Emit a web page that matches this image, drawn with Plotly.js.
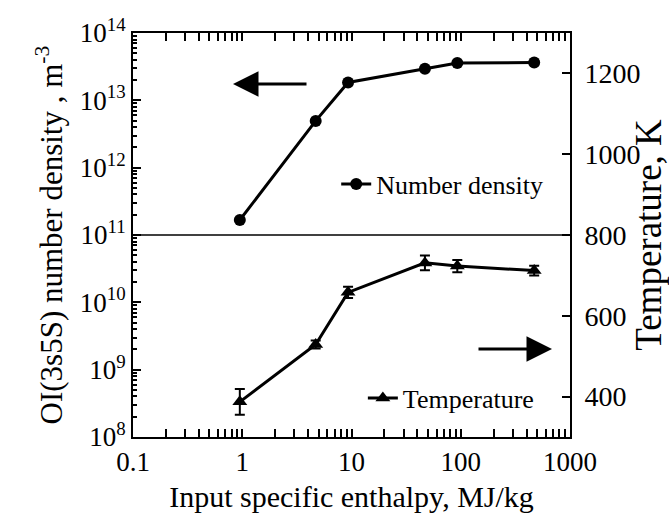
<!DOCTYPE html>
<html>
<head>
<meta charset="utf-8">
<script src="https://cdn.plot.ly/plotly-3.0.1.min.js"></script>
<style>html,body{margin:0;padding:0;background:#fff;}#chart{width:669px;height:515px;}</style>
</head>
<body>
<div id="chart"></div>
<script>
// Data
const enthalpy = [0.95, 4.7, 9.3, 47, 93, 470];          // MJ/kg
const numberDensity = [1.67e11, 4.95e12, 1.84e13, 2.94e13, 3.58e13, 3.65e13]; // m^-3
const temperature = [387, 529, 658, 731, 723, 712];      // K
const temperatureErr = [32, 10, 14, 18, 15, 12];         // K
const xTickVals = [0.1, 1, 10, 100, 1000];
const xTickText = ['0.1', '1', '10', '100', '1000'];
const yTickVals = [1e8, 1e9, 1e10, 1e11, 1e12, 1e13, 1e14];
const yTickText = ['10<sup>8</sup>', '10<sup>9</sup>', '10<sup>10</sup>', '10<sup>11</sup>', '10<sup>12</sup>', '10<sup>13</sup>', '10<sup>14</sup>'];
const y2TickVals = [400, 600, 800, 1000, 1200];

const FONT = '"Liberation Serif", "Times New Roman", serif';

const traces = [
  {
    x: enthalpy, y: numberDensity, name: 'Number density', type: 'scatter', mode: 'lines+markers',
    line: {color: '#000', width: 3}, marker: {symbol: 'circle', size: 12, color: '#000'},
    yaxis: 'y', legend: 'legend'
  },
  {
    x: enthalpy, y: temperature, name: 'Temperature', type: 'scatter', mode: 'lines+markers',
    line: {color: '#000', width: 3}, marker: {symbol: 'triangle-up', size: 13, color: '#000'},
    error_y: {type: 'data', array: temperatureErr, visible: true, color: '#000', thickness: 2, width: 5},
    yaxis: 'y2', legend: 'legend2'
  }
];

const layout = {
  width: 669, height: 515,
  margin: {l: 133, r: 99, t: 33, b: 78},
  paper_bgcolor: '#fff', plot_bgcolor: '#fff',
  font: {family: FONT, color: '#000', size: 22},
  xaxis: {
    type: 'log', range: [-1, 3], tickvals: xTickVals, ticktext: xTickText,
    ticks: 'inside', ticklen: 8, tickwidth: 2, tickcolor: '#000',
    minor: {ticks: 'inside', ticklen: 4, tickwidth: 2, tickcolor: '#000', dtick: 'D1', showgrid: false},
    showline: true, linewidth: 2, linecolor: '#000', mirror: 'allticks',
    showgrid: false, zeroline: false,
    tickfont: {family: FONT, size: 27},
    title: {text: 'Input specific enthalpy, MJ/kg', font: {family: FONT, size: 30}, standoff: 10}
  },
  yaxis: {
    type: 'log', range: [8, 14], tickvals: yTickVals, ticktext: yTickText,
    ticks: 'inside', ticklen: 8, tickwidth: 2, tickcolor: '#000',
    minor: {ticks: 'inside', ticklen: 4, tickwidth: 2, tickcolor: '#000', dtick: 'D1', showgrid: false},
    showline: true, linewidth: 2, linecolor: '#000', mirror: false,
    showgrid: false, zeroline: false,
    tickfont: {family: FONT, size: 27},
    title: {text: 'OI(3s5S) number density , m<sup>-3</sup>', font: {family: FONT, size: 31}, standoff: 8}
  },
  yaxis2: {
    overlaying: 'y', side: 'right', range: [300, 1300], tickvals: y2TickVals,
    ticks: 'inside', ticklen: 8, tickwidth: 2, tickcolor: '#000',
    showline: true, linewidth: 2, linecolor: '#000',
    showgrid: false, zeroline: false,
    ticklabelstandoff: 7,
    tickfont: {family: FONT, size: 28},
    title: {text: 'Temperature, K', font: {family: FONT, size: 37}, standoff: 0}
  },
  showlegend: true,
  legend: {
    x: 0.465, y: (437 - 184) / 404, xanchor: 'left', yanchor: 'middle',
    bgcolor: 'rgba(0,0,0,0)', borderwidth: 0, font: {family: FONT, size: 26},
    itemwidth: 30, tracegroupgap: 0
  },
  legend2: {
    x: 0.526, y: (437 - 398) / 404, xanchor: 'left', yanchor: 'middle',
    bgcolor: 'rgba(0,0,0,0)', borderwidth: 0, font: {family: FONT, size: 26},
    itemwidth: 30
  },
  shapes: [
    {type: 'line', xref: 'paper', x0: 0, x1: 1, yref: 'y2', y0: 800, y1: 800, line: {color: '#000', width: 1.5}}
  ],
  annotations: [
    {xref: 'paper', yref: 'paper', x: (233 - 133) / 437, y: (437 - 84) / 404, ax: 75, ay: 0, text: '',
     showarrow: true, arrowhead: 2, arrowsize: 1.7, arrowwidth: 3, arrowcolor: '#000'},
    {xref: 'paper', yref: 'paper', x: (552 - 133) / 437, y: (437 - 349) / 404, ax: -75, ay: 0, text: '',
     showarrow: true, arrowhead: 2, arrowsize: 1.7, arrowwidth: 3, arrowcolor: '#000'}
  ]
};

Plotly.newPlot('chart', traces, layout, {displayModeBar: false, staticPlot: true});
</script>
</body>
</html>
